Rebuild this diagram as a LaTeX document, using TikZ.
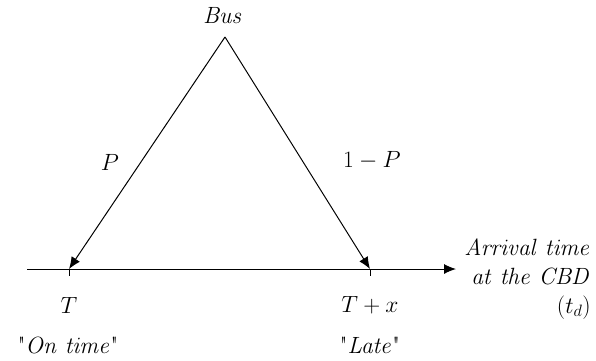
\RequirePackage{fix-cm}
\documentclass[tikz,border=0pt]{standalone}
\usetikzlibrary{arrows.meta}
\begin{document}
\begin{tikzpicture}[x=1pt,y=-1pt,
  lbl/.style={inner sep=0pt,font=\fontsize{23.5}{28}\selectfont},
  conn/.style={line width=1pt,-{Latex[length=12pt,width=10pt]}}]
\useasboundingbox (0,0) rectangle (596,360);
\coordinate (apex) at (225,37);
\coordinate (ts) at (27,269);
\coordinate (te) at (456,269);
\coordinate (tT) at (69,269);
\coordinate (tTx) at (370,269);
\node[lbl] (bus) at (223,15) {$\mathit{Bus}$};
\node[lbl] (p) at (110,162) {$P$};
\node[lbl] (q) at (372,160) {$1-P$};
\node[lbl] (T) at (69,305) {$T$};
\node[lbl] (Tx) at (370,305) {$T+x$};
\node[lbl] (on) at (68,345) {\textquotedbl$\mathit{On\ time}$\textquotedbl};
\node[lbl] (late) at (370,345) {\textquotedbl$\mathit{Late}$\textquotedbl};
\node[lbl,anchor=east,align=right] (arr) at (591,279) {$\mathit{Arrival\ time}$\\[1pt]$\mathit{at\ the\ CBD}$\\[1pt]$(t_d)$};
\draw[conn] (ts) -- (te);
\draw[line width=1pt] (tT) -- ++(0,7) (tTx) -- ++(0,7);
\draw[conn] (apex) -- (tT);
\draw[conn] (apex) -- (tTx);
\end{tikzpicture}
\end{document}
